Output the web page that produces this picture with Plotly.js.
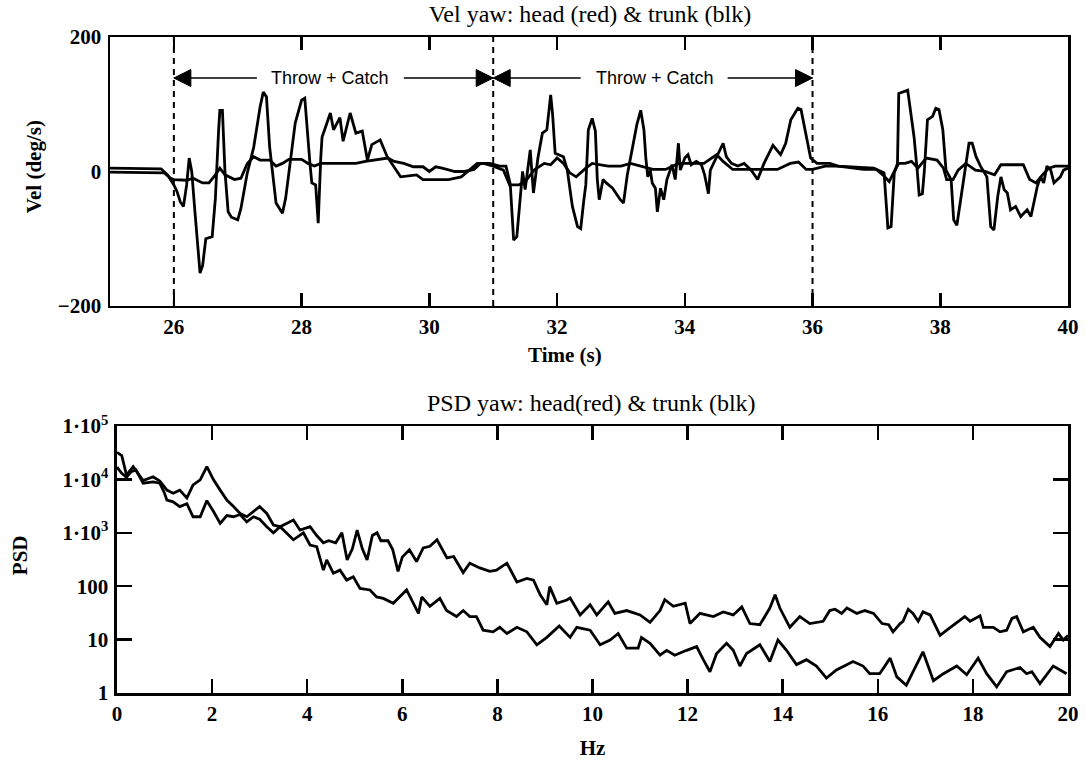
<!DOCTYPE html>
<html>
<head>
<meta charset="utf-8">
<script src="https://cdn.plot.ly/plotly-3.0.1.min.js"></script>
<style>html,body{margin:0;padding:0;background:#fff;}#chart{width:1086px;height:761px;}</style>
</head>
<body>
<div id="chart"></div>
<script>
// ---------- Top panel: yaw velocity (deg/s) ----------
const headTime = [
 25.0,25.5,25.8,25.9,26.0,26.05,26.1,26.15,26.2,26.24,
 26.28,26.33,26.41,26.45,26.5,26.6,26.65,26.7,26.72,26.76,
 26.8,26.85,26.9,27.0,27.05,27.15,27.25,27.35,27.4,27.45,
 27.5,27.6,27.7,27.75,27.82,27.9,28.0,28.05,28.13,28.16,
 28.22,28.26,28.3,28.32,28.45,28.5,28.6,28.65,28.76,28.85,
 28.95,29.03,29.1,29.23,29.34,29.55,29.8,29.9,30.3,30.5,
 30.75,30.85,31.0,31.16,31.27,31.32,31.37,31.43,31.46,31.5,
 31.58,31.63,31.7,31.77,31.84,31.9,31.93,31.97,32.1,32.16,
 32.24,32.32,32.37,32.42,32.45,32.49,32.55,32.6,32.63,32.66,
 32.72,32.77,32.87,32.99,33.04,33.1,33.18,33.25,33.31,33.36,
 33.39,33.42,33.46,33.49,33.54,33.57,33.62,33.67,33.72,33.77,
 33.8,33.85,33.9,33.93,34.0,34.05,34.1,34.18,34.26,34.31,
 34.37,34.4,34.5,34.6,34.65,34.73,34.83,34.93,35.04,35.14,
 35.24,35.38,35.5,35.58,35.66,35.77,35.82,35.9,35.97,36.07,
 36.27,36.4,36.96,37.12,37.18,37.23,37.28,37.33,37.35,37.49,
 37.54,37.59,37.64,37.67,37.72,37.75,37.8,37.88,37.93,37.98,
 38.04,38.09,38.17,38.21,38.26,38.32,38.39,38.45,38.5,38.56,
 38.63,38.73,38.79,38.84,38.9,38.95,39.0,39.05,39.1,39.18,
 39.26,39.36,39.42,39.47,39.52,39.57,39.62,39.67,39.73,39.78,
 39.88,39.93,40.0
];
const headVel = [
 5,5,4,-5,-20,-30,-45,-52,-20,20,
 0,-60,-151,-140,-100,-97,-40,60,91,91,
 0,-60,-68,-72,-55,-2,36,96,118,111,
 36,-47,-62,-40,13,72,106,109,13,-17,
 -20,-77,20,51,87,62,80,45,87,57,
 60,17,40,47,22,-8,-5,-12,-12,-8,
 12,12,8,2,-23,-102,-97,-38,0,-27,
 32,-32,20,57,62,114,85,27,22,2,
 -52,-82,-85,-42,-20,62,79,60,-12,-42,
 -12,-17,-25,-42,-47,-5,37,70,91,62,
 20,-8,2,-17,-25,-60,-25,-42,-12,0,
 10,-12,42,2,20,25,10,15,10,-5,
 -33,2,22,42,22,12,8,12,2,-12,
 12,39,25,42,77,94,92,52,20,12,
 12,8,5,-2,-84,-82,-2,12,116,121,
 85,51,0,-35,-33,0,77,82,94,92,
 62,2,-12,-72,-80,-42,2,42,42,22,
 8,-8,-82,-87,-37,-8,-27,-32,-57,-52,
 -67,-57,-67,-42,-22,-8,-17,8,2,-17,
 -8,2,5
];
const trunkTime = [
 25.0,25.5,25.85,25.95,26.0,26.2,26.3,26.45,26.55,26.65,
 26.72,26.8,26.95,27.05,27.15,27.25,27.35,27.5,27.6,27.7,
 27.8,28.0,28.1,28.2,28.3,28.6,28.85,29.0,29.2,29.35,
 29.45,29.6,29.75,29.9,30.0,30.1,30.2,30.4,30.55,30.7,
 30.8,30.95,31.1,31.2,31.27,31.4,31.5,31.65,31.8,31.9,
 32.0,32.1,32.2,32.3,32.45,32.55,32.8,33.0,33.15,33.3,
 33.5,33.7,33.9,34.1,34.3,34.5,34.6,34.75,34.9,35.2,
 35.45,35.65,35.78,35.9,36.0,36.2,36.4,36.8,37.0,37.1,
 37.2,37.28,37.35,37.45,37.55,37.65,37.78,37.95,38.05,38.1,
 38.2,38.28,38.4,38.55,38.7,38.85,38.95,39.1,39.3,39.4,
 39.5,39.6,39.7,39.8,40.0
];
const trunkVel = [
 -1,-1,-2,-10,-12,-13,-10,-17,-17,-5,
 5,-5,-12,-10,12,22,17,17,8,12,
 18,18,12,8,12,12,12,15,18,20,
 15,12,7,7,0,7,5,0,0,3,
 12,12,8,8,-20,-20,-15,3,12,10,
 20,12,-2,-8,5,12,8,8,12,8,
 3,3,12,12,12,25,15,3,3,3,
 3,12,14,3,3,8,8,3,3,-5,
 -15,0,12,12,15,5,20,17,5,-12,
 -12,2,12,2,0,-5,10,10,10,-12,
 -17,-5,5,8,8
];
const timeTicks = [26,28,30,32,34,36,38,40];
const velTicks = [-200,0,200];
const velTickText = ['\u2212200','0','200'];
const eventTimes = [26,31,36];
const eventLabel = 'Throw + Catch';

// ---------- Bottom panel: PSD ----------
const psdHeadFreq = [
 0,0.1,0.2,0.34,0.45,0.55,0.76,0.9,1.05,1.18,
 1.32,1.47,1.6,1.75,1.89,2.03,2.17,2.31,2.45,2.59,
 2.73,2.87,3.0,3.15,3.29,3.43,3.57,3.71,3.85,4.06,
 4.2,4.34,4.45,4.6,4.73,4.84,4.95,5.05,5.16,5.26,
 5.37,5.47,5.55,5.7,5.8,5.91,6.0,6.15,6.3,6.44,
 6.58,6.73,6.94,7.08,7.28,7.42,7.63,7.84,7.98,8.2,
 8.41,8.62,8.76,8.9,9.04,9.1,9.25,9.46,9.53,9.74,
 9.95,10.09,10.33,10.47,10.72,11.0,11.21,11.42,11.52,11.7,
 11.95,12.05,12.26,12.54,12.75,12.96,13.14,13.31,13.52,13.73,
 13.84,13.94,14.15,14.36,14.57,14.85,14.99,15.1,15.24,15.35,
 15.56,15.73,15.91,16.09,16.23,16.32,16.47,16.53,16.64,16.74,
 16.85,16.95,17.1,17.31,17.45,17.6,17.83,17.94,18.15,18.22,
 18.43,18.57,18.71,18.82,18.92,19.06,19.27,19.41,19.62,19.8,
 19.9,20.0
];
const psdHead = [
 32000,28000,12000,17400,12600,9500,11200,9300,6300,5500,
 6300,4500,7900,9800,17400,9800,6300,4100,3100,2300,
 2000,2500,3100,2300,1400,1300,1500,1740,1120,1300,
 890,650,710,650,1000,310,500,1120,500,310,
 890,1000,710,710,480,190,350,480,290,520,
 560,740,340,360,180,270,220,190,200,270,
 120,140,130,69,45,98,48,55,60,29,
 45,29,51,31,35,29,21,35,56,42,
 48,20,31,27,33,29,41,20,19,39,
 69,39,17,27,20,22,35,37,31,39,
 31,35,31,20,19,14,20,22,37,31,
 22,33,29,12,15,19,27,22,28,17,
 17,14,15,25,27,14,17,11,7.4,13,
 9.8,12
];
const psdTrunkFreq = [
 0,0.1,0.2,0.3,0.4,0.55,0.76,0.9,1.0,1.05,
 1.18,1.32,1.47,1.6,1.75,1.89,2.03,2.17,2.31,2.45,
 2.59,2.73,2.87,3.0,3.15,3.29,3.43,3.57,3.71,3.92,
 4.06,4.2,4.34,4.41,4.55,4.69,4.83,4.97,5.11,5.32,
 5.46,5.6,5.81,6.09,6.23,6.34,6.41,6.58,6.79,6.93,
 7.14,7.28,7.42,7.56,7.7,7.91,8.05,8.2,8.41,8.62,
 8.83,9.04,9.3,9.53,9.67,9.95,10.16,10.37,10.54,10.72,
 10.96,11.03,11.21,11.42,11.56,11.73,11.98,12.19,12.33,12.47,
 12.61,12.82,12.96,13.1,13.24,13.52,13.73,13.9,14.08,14.29,
 14.5,14.71,14.92,15.13,15.48,15.69,15.83,16.04,16.26,16.4,
 16.6,16.95,17.17,17.38,17.66,17.87,18.11,18.29,18.5,18.71,
 18.99,19.13,19.24,19.41,19.69,19.97
];
const psdTrunk = [
 17000,13000,11000,14000,15000,8500,9000,8500,5500,4100,
 3800,3100,3500,2000,2000,4000,2500,1500,2100,2000,
 2200,1600,2000,1800,1300,1000,1300,1000,740,1000,
 590,550,200,310,175,200,130,150,91,85,
 63,59,48,85,48,31,63,42,59,35,
 27,35,27,27,15,14,17,13,17,14,
 8,11,18,11,17,15,8,9.8,13,6.9,
 6.9,11,8.5,5.1,6.3,5.1,6.3,7.4,4.2,2.5,
 5.5,8.5,6.3,3.2,5.5,8,3.9,9.8,6.3,3.4,
 4.2,3.2,1.9,2.7,3.9,3.2,2.3,2.3,4.5,2.0,
 1.4,5.9,1.7,2.3,3.2,2.2,4.5,2.3,1.3,2.5,
 3.0,2.3,2.5,1.5,3.2,2.3
];
const freqTicks = [0,2,4,6,8,10,12,14,16,18,20];
const psdTicks = [1,10,100,1000,10000,100000];
const psdTickText = ['1','10','100','1\u00b710<sup>3</sup>','1\u00b710<sup>4</sup>','1\u00b710<sup>5</sup>'];

// ---------- Styling ----------
const SERIF = 'Liberation Serif, Times New Roman, serif';
const INK = '#000';
const lineStyle = {color: INK, width: 2.8};
const tickFont = {family: SERIF, size: 21, color: INK, weight: 'bold'};
const axTitleFont = {family: SERIF, size: 21, color: INK, weight: 'bold'};

const traces = [
  {x: headTime, y: headVel, xaxis: 'x', yaxis: 'y', mode: 'lines', line: lineStyle, name: 'head'},
  {x: trunkTime, y: trunkVel, xaxis: 'x', yaxis: 'y', mode: 'lines', line: lineStyle, name: 'trunk'},
  {x: psdHeadFreq, y: psdHead, xaxis: 'x2', yaxis: 'y2', mode: 'lines', line: lineStyle, name: 'head PSD'},
  {x: psdTrunkFreq, y: psdTrunk, xaxis: 'x2', yaxis: 'y2', mode: 'lines', line: lineStyle, name: 'trunk PSD'}
];

const axisBase = {
  showline: true, linewidth: 2.5, linecolor: INK,
  showgrid: false, zeroline: false,
  tickcolor: INK, tickwidth: 2.5, tickfont: tickFont
};

const arrowY = 139;
const labelFont = {family: 'Liberation Sans, Arial, sans-serif', size: 18, color: INK};

const annotations = [
  {xref: 'paper', yref: 'paper', x: 0.503, y: 0.442, text: 'PSD yaw: head(red) &amp; trunk (blk)', showarrow: false,
   font: {family: SERIF, size: 24, color: INK}, xanchor: 'center', yanchor: 'middle'},
  {xref: 'paper', yref: 'paper', x: 0.475, y: 0.515, text: 'Time (s)', showarrow: false,
   font: axTitleFont, xanchor: 'center', yanchor: 'middle'},
  {xref: 'paper', yref: 'paper', x: -0.079, y: 0.802, text: 'Vel (deg/s)', showarrow: false, textangle: -90,
   font: axTitleFont, xanchor: 'center', yanchor: 'middle'},
  {xref: 'paper', yref: 'paper', x: -0.094, y: 0.21, text: 'PSD', showarrow: false, textangle: -90,
   font: axTitleFont, xanchor: 'center', yanchor: 'middle'},
  {xref: 'x', yref: 'y', x: 28.45, y: arrowY, text: eventLabel, showarrow: false,
   font: labelFont, xanchor: 'center', yanchor: 'middle'},
  {xref: 'x', yref: 'y', x: 33.54, y: arrowY, text: eventLabel, showarrow: false,
   font: labelFont, xanchor: 'center', yanchor: 'middle'}
];

// dashed event markers
const shapes = eventTimes.map(t => ({
  type: 'line', xref: 'x', yref: 'y', x0: t, x1: t, y0: velTicks[0], y1: velTicks[2],
  line: {color: INK, width: 2, dash: '6px,5px'}
}));

// arrow shafts (from the label towards the event line) with filled heads
const arrowSpans = [[eventTimes[0], 27.3], [eventTimes[1], 29.6], [eventTimes[1], 32.37], [eventTimes[2], 34.67]];
arrowSpans.forEach(([tip, tail]) => {
  shapes.push({type: 'line', xref: 'x', yref: 'y', x0: tail, x1: tip, y0: arrowY, y1: arrowY,
    line: {color: INK, width: 1.5}});
  const dir = tail > tip ? 1 : -1;
  shapes.push({type: 'path', xref: 'x', yref: 'y', xsizemode: 'pixel', ysizemode: 'pixel',
    xanchor: tip, yanchor: arrowY,
    path: `M0,0 L${17 * dir},8.5 L${17 * dir},-8.5 Z`,
    fillcolor: INK, line: {color: INK, width: 1}});
});

const layout = {
  width: 1086, height: 761,
  margin: {l: 110, r: 18, t: 37, b: 68},
  paper_bgcolor: '#fff', plot_bgcolor: '#fff',
  showlegend: false,
  font: {family: SERIF, color: INK},
  title: {text: 'Vel yaw: head (red) &amp; trunk (blk)', font: {family: SERIF, size: 24, color: INK},
    xref: 'paper', x: 0.501, xanchor: 'center', yref: 'container', y: 0.9816, yanchor: 'middle'},
  xaxis: Object.assign({}, axisBase, {
    domain: [0, 1], anchor: 'y', range: [25, 40],
    tickmode: 'array', tickvals: timeTicks, ticks: 'inside', ticklen: 13, mirror: 'allticks'
  }),
  yaxis: Object.assign({}, axisBase, {
    domain: [0.59, 1], anchor: 'x', range: [-200, 200],
    tickmode: 'array', tickvals: velTicks, ticktext: velTickText, ticks: '', mirror: true,
    ticklabelstandoff: 2
  }),
  xaxis2: Object.assign({}, axisBase, {
    domain: [0.0073, 1], anchor: 'y2', range: [0, 20],
    tickmode: 'array', tickvals: freqTicks, ticks: 'inside', ticklen: 14, mirror: 'allticks',
    title: {text: 'Hz', font: axTitleFont, standoff: 16}
  }),
  yaxis2: Object.assign({}, axisBase, {
    domain: [0, 0.407], anchor: 'x2', type: 'log', range: [0, 5],
    tickmode: 'array', tickvals: psdTicks, ticktext: psdTickText, ticks: 'inside', ticklen: 15, mirror: 'allticks',
    ticklabelstandoff: 2
  }),
  shapes: shapes,
  annotations: annotations
};

Plotly.newPlot('chart', traces, layout, {staticPlot: true, displayModeBar: false});
</script>
</body>
</html>
